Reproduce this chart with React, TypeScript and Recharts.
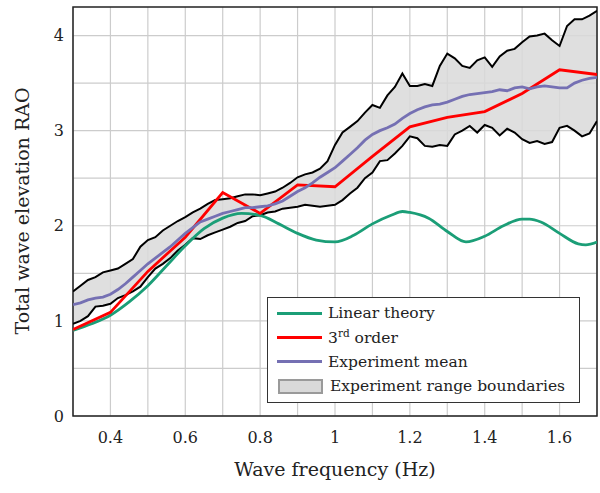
import {
  ComposedChart,
  Line,
  Area,
  XAxis,
  YAxis,
  CartesianGrid,
  ReferenceArea,
} from "recharts";

// experiment sampling grid (Hz)
const freqExp = [
  0.3, 0.32, 0.34, 0.36, 0.38, 0.4, 0.42, 0.44, 0.46, 0.48, 0.5, 0.52, 0.54,
  0.56, 0.58, 0.6, 0.62, 0.64, 0.66, 0.68, 0.7, 0.72, 0.74, 0.76, 0.78, 0.8,
  0.82, 0.84, 0.86, 0.88, 0.9, 0.92, 0.94, 0.96, 0.98, 1.0, 1.02, 1.04, 1.06,
  1.08, 1.1, 1.12, 1.14, 1.16, 1.18, 1.2, 1.22, 1.24, 1.26, 1.28, 1.3, 1.32,
  1.34, 1.36, 1.38, 1.4, 1.42, 1.44, 1.46, 1.48, 1.5, 1.52, 1.54, 1.56, 1.58,
  1.6, 1.62, 1.64, 1.66, 1.68, 1.7,
];

const upperExp = [
  1.31, 1.37, 1.43, 1.46, 1.51, 1.53, 1.55, 1.6, 1.65, 1.78, 1.85, 1.88, 1.95,
  2.0, 2.05, 2.09, 2.14, 2.18, 2.23, 2.27, 2.28, 2.29, 2.31, 2.33, 2.33, 2.32,
  2.34, 2.36, 2.4, 2.45, 2.51, 2.54, 2.56, 2.6, 2.68, 2.85, 2.98, 3.04, 3.1,
  3.19, 3.27, 3.24, 3.37, 3.46, 3.6, 3.47, 3.47, 3.49, 3.47, 3.68, 3.81, 3.76,
  3.68, 3.66, 3.74, 3.77, 3.67, 3.78, 3.84, 3.86, 3.93, 3.99, 4.0, 4.02, 3.95,
  3.89, 4.1, 4.17, 4.17, 4.21, 4.26,
];

const lowerExp = [
  0.97, 1.0, 1.05, 1.15, 1.16, 1.18, 1.24, 1.27, 1.31, 1.36, 1.46, 1.55, 1.6,
  1.66, 1.74, 1.8, 1.87, 1.86, 1.9, 1.93, 1.96, 1.99, 2.03, 2.05, 2.1, 2.11,
  2.14, 2.15, 2.18, 2.19, 2.2, 2.22, 2.21, 2.2, 2.21, 2.22, 2.27, 2.34, 2.4,
  2.5, 2.56, 2.68, 2.69, 2.76, 2.84, 2.94, 2.92, 2.84, 2.83, 2.85, 2.84, 2.96,
  3.0, 3.05, 2.98, 3.06, 3.03, 2.95, 3.02, 2.98, 2.91, 2.87, 2.89, 2.86, 2.88,
  3.03, 3.05, 3.0, 2.94, 2.97, 3.1,
];

const meanExp = [
  1.17, 1.19, 1.22, 1.24, 1.25, 1.28, 1.33, 1.39, 1.46, 1.53, 1.6, 1.66, 1.72,
  1.78, 1.85, 1.92, 1.98, 2.04, 2.07, 2.1, 2.13, 2.15, 2.17, 2.19, 2.19, 2.2,
  2.21, 2.23, 2.26, 2.31, 2.36, 2.4, 2.45, 2.51, 2.56, 2.61, 2.68, 2.75, 2.82,
  2.9, 2.96, 3.0, 3.03, 3.07, 3.13, 3.18, 3.22, 3.25, 3.27, 3.28, 3.3, 3.33,
  3.36, 3.38, 3.39, 3.4, 3.41, 3.43, 3.42, 3.45, 3.46, 3.44, 3.46, 3.47, 3.46,
  3.45, 3.45, 3.5, 3.53, 3.55, 3.56,
];

const freqLinear = [
  0.3, 0.35, 0.4, 0.45, 0.5, 0.55, 0.6, 0.65, 0.7, 0.75, 0.8, 0.85, 0.9, 0.95,
  1.0, 1.05, 1.1, 1.15, 1.18, 1.2, 1.25, 1.3, 1.35, 1.4, 1.45, 1.5, 1.52, 1.55,
  1.6, 1.65, 1.67, 1.7,
];
const linearTheory = [
  0.9, 0.97, 1.06, 1.2, 1.37, 1.58, 1.79, 1.97, 2.08, 2.13, 2.11, 2.02, 1.92,
  1.85, 1.83, 1.9, 2.02, 2.11, 2.15, 2.14, 2.08, 1.94, 1.83, 1.89, 2.0, 2.07,
  2.07, 2.04, 1.92, 1.81, 1.8, 1.83,
];

const freq3rd = [0.3, 0.4, 0.5, 0.6, 0.7, 0.8, 0.9, 1.0, 1.1, 1.2, 1.3, 1.4, 1.5, 1.6, 1.7];
const thirdOrder = [
  0.91, 1.09, 1.52, 1.88, 2.35, 2.13, 2.43, 2.41, 2.73, 3.04, 3.14, 3.2, 3.39,
  3.64, 3.59,
];

const xTicks = [0.3, 0.4, 0.5, 0.6, 0.7, 0.8, 0.9, 1.0, 1.1, 1.2, 1.3, 1.4, 1.5, 1.6, 1.7];
const xLabels = [0.4, 0.6, 0.8, 1.0, 1.2, 1.4, 1.6];
const yTicks = [0, 0.5, 1, 1.5, 2, 2.5, 3, 3.5, 4];
const yLabels = [0, 1, 2, 3, 4];

const expData = freqExp.map((f, i) => ({
  f,
  lo: lowerExp[i],
  hi: upperExp[i],
  mean: meanExp[i],
}));
const linearData = freqLinear.map((f, i) => ({ f, v: linearTheory[i] }));
const thirdData = freq3rd.map((f, i) => ({ f, v: thirdOrder[i] }));

const font = "'DejaVu Serif', serif";
const tickStyle = { fontFamily: font, fontSize: 16, fill: "#222" };

function LegendRow(props: { color?: string; patch?: boolean; children: any }) {
  return (
    <div style={{ display: "flex", alignItems: "center", height: 24.3 }}>
      {props.patch ? (
        <div
          style={{
            width: 41,
            height: 11,
            marginLeft: 1,
            marginRight: 7,
            background: "#d9d9d9",
            border: "2px solid #9a9a9a",
            flexShrink: 0,
          }}
        />
      ) : (
        <div
          style={{
            width: 45,
            height: 3,
            marginRight: 6,
            background: props.color,
            flexShrink: 0,
          }}
        />
      )}
      <span style={{ whiteSpace: "nowrap" }}>{props.children}</span>
    </div>
  );
}

export default function App() {
  return (
    <div
      style={{
        position: "absolute",
        left: 0,
        top: 0,
        width: 600,
        height: 493,
        background: "#fff",
      }}
    >
      <ComposedChart
        width={600}
        height={493}
        data={expData}
        margin={{ top: 7, right: 3, left: 0, bottom: 0 }}
      >
        <CartesianGrid
          stroke="#cccccc"
          strokeWidth={1.2}
          horizontalValues={yTicks}
          verticalValues={xTicks}
        />
        <XAxis
          dataKey="f"
          type="number"
          domain={[0.3, 1.7]}
          ticks={xTicks}
          allowDataOverflow
          height={77}
          tickSize={0}
          tickMargin={16}
          axisLine={false}
          tick={tickStyle}
          tickFormatter={(v: number) =>
            xLabels.some((l) => Math.abs(l - v) < 1e-6) ? String(Number(v.toFixed(1))) : ""
          }
        />
        <YAxis
          type="number"
          domain={[0, 4.3]}
          ticks={yTicks}
          allowDataOverflow
          width={73}
          tickSize={0}
          tickMargin={9}
          axisLine={false}
          tick={tickStyle}
          tickFormatter={(v: number) => (yLabels.includes(v) ? String(v) : "")}
        />
        <Area
          dataKey={(d: any) => [d.lo, d.hi]}
          type="linear"
          stroke="none"
          fill="#d9d9d9"
          fillOpacity={0.85}
          isAnimationActive={false}
        />
        <Line
          dataKey="hi"
          type="linear"
          stroke="#000"
          strokeWidth={2}
          dot={false}
          isAnimationActive={false}
        />
        <Line
          dataKey="lo"
          type="linear"
          stroke="#000"
          strokeWidth={2}
          dot={false}
          isAnimationActive={false}
        />
        <Line
          data={linearData}
          dataKey="v"
          type="monotone"
          stroke="#1b9e77"
          strokeWidth={2.8}
          dot={false}
          isAnimationActive={false}
        />
        <Line
          data={thirdData}
          dataKey="v"
          type="linear"
          stroke="#ff0000"
          strokeWidth={2.8}
          dot={false}
          isAnimationActive={false}
        />
        <Line
          dataKey="mean"
          type="linear"
          stroke="#7570b3"
          strokeWidth={2.8}
          dot={false}
          isAnimationActive={false}
        />
        <ReferenceArea
          x1={0.3}
          x2={1.7}
          y1={0}
          y2={4.3}
          fill="none"
          stroke="#222"
          strokeWidth={1.5}
          ifOverflow="visible"
        />
      </ComposedChart>

      <div
        style={{
          position: "absolute",
          left: 0,
          top: 211,
          width: 0,
          height: 0,
        }}
      >
        <div
          style={{
            position: "absolute",
            left: 22,
            top: 0,
            transform: "translate(-50%, -50%) rotate(-90deg)",
            whiteSpace: "nowrap",
            fontFamily: font,
            fontSize: 19,
            color: "#222",
          }}
        >
          Total wave elevation RAO
        </div>
      </div>

      <div
        style={{
          position: "absolute",
          left: 73,
          width: 524,
          top: 458,
          textAlign: "center",
          fontFamily: font,
          fontSize: 19,
          color: "#222",
        }}
      >
        Wave frequency (Hz)
      </div>

      <div
        style={{
          position: "absolute",
          left: 267,
          top: 297,
          width: 313,
          height: 106,
          boxSizing: "border-box",
          border: "1.5px solid #333",
          background: "#fff",
          padding: "3px 8px 0 9px",
          fontFamily: font,
          fontSize: 15.5,
          color: "#222",
        }}
      >
        <LegendRow color="#1b9e77">Linear theory</LegendRow>
        <LegendRow color="#ff0000">
          3<sup style={{ fontSize: 10.5, verticalAlign: 6 }}>rd</sup> order
        </LegendRow>
        <LegendRow color="#7570b3">Experiment mean</LegendRow>
        <LegendRow patch>Experiment range boundaries</LegendRow>
      </div>
    </div>
  );
}
